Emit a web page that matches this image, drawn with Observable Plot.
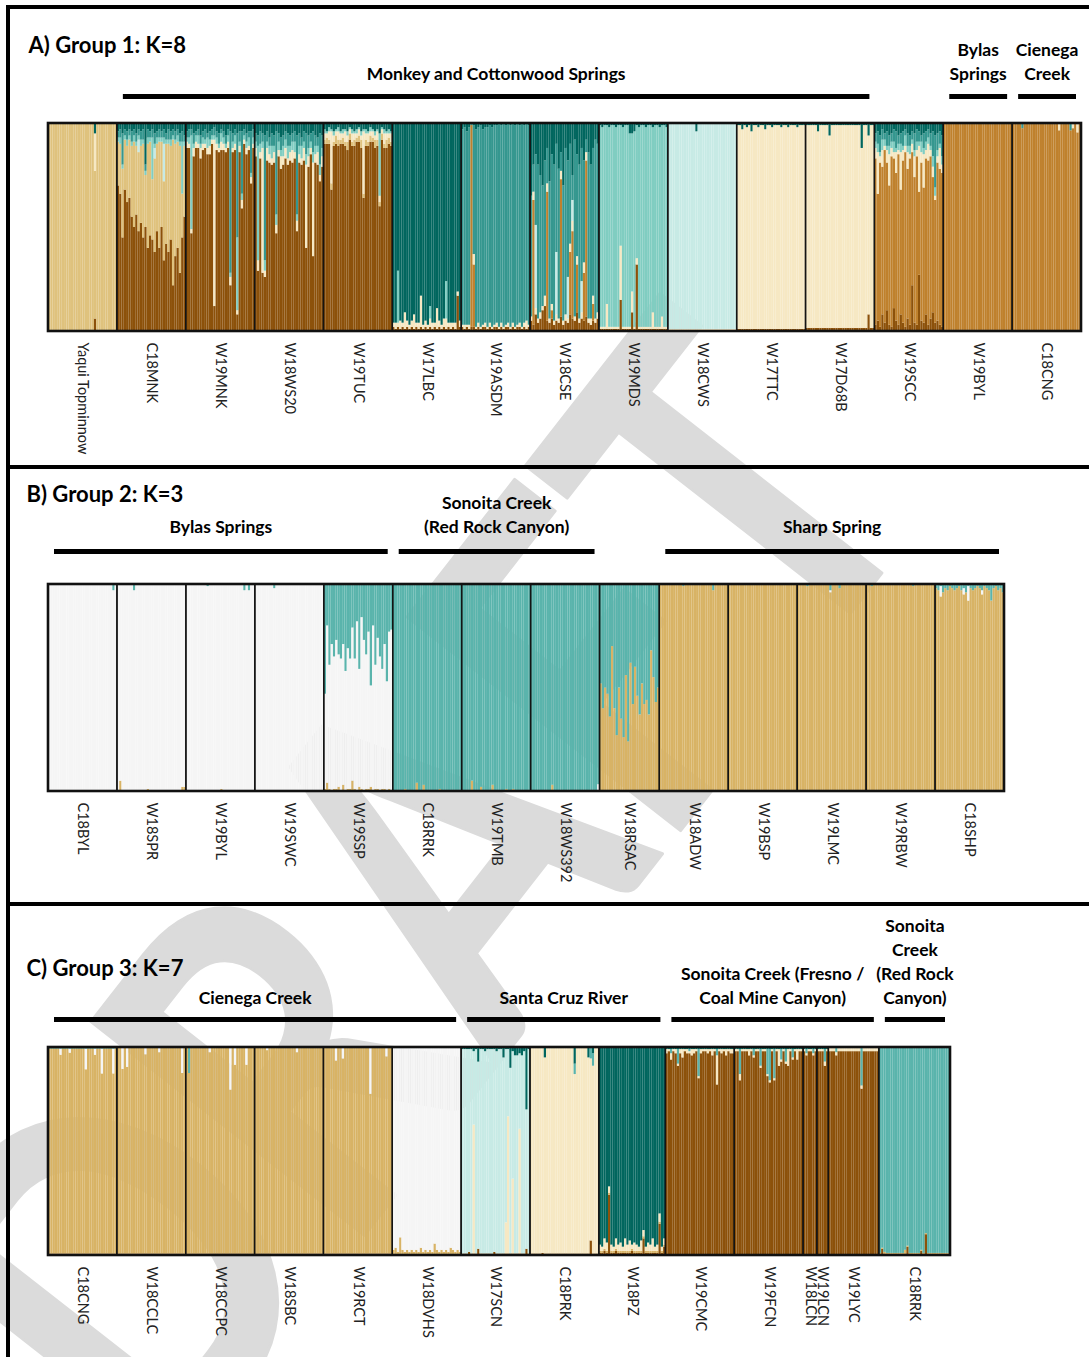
<!DOCTYPE html>
<html><head><meta charset="utf-8">
<script src="https://cdn.jsdelivr.net/npm/d3@7"></script>
<script src="https://cdn.jsdelivr.net/npm/@observablehq/plot@0.6"></script>
<style>
body{margin:0;background:#fff;}
#page{position:relative;width:1089px;height:1357px;overflow:hidden;background:#fff;font-family:Lato,"Open Sans",sans-serif;}
.panel{position:absolute;left:0;z-index:1;}
.line{position:absolute;background:#000;z-index:2;}
#wm{position:absolute;left:0;top:0;z-index:0;}
</style></head><body><div id="page"></div>
<script>
// ---------------- Panel A: Group 1, K=8 ----------------
const titleA = "A) Group 1: K=8";
const colorsA = ["#8c510a","#bf812d","#dfc27d","#f6e8c3","#c7eae5","#80cdc1","#35978f","#01665e"];
const popsA = ["Yaqui Topminnow","C18MNK","W19MNK","W18WS20","W19TUC","W17LBC","W19ASDM","W18CSE","W19MDS","W18CWS","W17TTC","W17D68B","W19SCC","W19BYL","C18CNG"];
const sizesA = [30,30,30,30,30,30,30,30,30,30,30,30,30,30,30];
const mainA = [2,2,0,0,0,7,6,6,5,4,3,3,1,1,1];
// per population: [cluster, % per individual] ; number = all individuals, object = sparse (_ = base)
const layersA = [
  [[0,{20:6}],[3,{20:18}],[7,{20:5}]],
  [[0,"70 66 45 68 62 64 55 50 56 48 52 45 50 40 46 44 38 48 40 50 34 42 38 44 22 36 40 28 45 55"],
   [4,{9:6,16:5,20:18}],
   [5,"2 3 2 2 3 2 2 3 2 2 3 2 2 3 2 20 2 3 2 2 3 2 2 3 2 2 3 2 25 2"],
   [6,"3 4 15 3 4 3 5 3 4 3 4 5 3 4 3 4 5 3 4 3 4 3 5 4 3 4 3 4 5 3"],
   [7,"4 3 5 3 4 3 4 3 5 3 4 3 20 3 4 3 5 4 3 4 3 5 3 4 3 4 3 5 4 6"]],
  [[3,"3 2 2 4 3 2 5 3 2 3 4 2 80 3 2 4 3 2 3 4 2 3 2 3 4 2 3 2 3 2"],
   [5,"2 3 45 2 3 4 2 3 2 5 3 2 2 3 2 4 3 2 3 2 3 4 35 2 3 2 3 4 2 3"],
   [6,"3 4 3 5 2 3 4 3 5 2 4 3 4 3 5 2 3 4 3 68 4 3 50 5 30 3 4 3 20 4"],
   [7,"4 3 3 5 4 3 6 4 3 5 4 3 2 4 5 3 4 6 3 4 5 3 5 4 4 3 5 4 4 3"]],
  [[3,"4 5 3 60 3 6 4 3 5 4 3 6 4 5 3 4 6 3 5 4 3 6 40 5 3 45 4 6 3 5"],
   [5,"3 55 4 3 5 3 4 6 3 5 4 3 5 4 6 3 4 5 3 4 6 3 5 4 3 5 4 3 5 4"],
   [6,"4 5 6 4 60 5 4 6 5 40 4 6 5 4 6 5 4 5 38 6 4 5 10 6 4 10 5 4 15 6"],
   [7,"5 6 4 5 6 4 7 5 6 4 5 7 6 4 5 6 5 4 6 5 7 4 5 6 5 4 6 7 5 6"]],
  [[2,"2 3 2 3 2 4 3 2 3 2 4 3 2 3 2 3 4 2 3 2 3 2 4 3 2 3 2 4 3 2"],
   [3,"3 2 4 25 3 2 4 3 2 5 3 2 4 3 2 3 2 30 3 4 2 3 2 4 3 2 5 3 2 4"],
   [5,"2 1 2 1 2 1 2 1 2 1 2 1 2 1 2 1 2 1 2 1 2 1 2 1 30 1 2 1 2 1"],
   [7,"3 4 2 3 4 3 2 4 3 3 4 2 3 4 3 2 4 3 3 4 2 3 4 3 5 2 3 4 3 4"]],
  [[0,"2 1 2 1 2 1 2 1 2 1 2 1 2 1 2 1 2 1 2 1 2 1 2 1 2 1 2 1 17 2"],
   [3,"2 3 2 4 2 8 3 2 3 7 2 3 15 2 3 2 4 3 2 10 3 2 4 5 2 3 2 3 2 3"],
   [5,{2:25,16:6,23:18}]],
  [[0,"2 1 2 1 2 2 1 2 1 2 2 1 2 1 2 2 1 2 1 2 2 1 2 1 2 2 1 2 1 2"],
   [1,{4:97,5:30}],
   [3,"1 2 1 2 0 5 1 2 1 1 2 1 2 1 1 2 1 2 1 1 2 1 2 1 1 2 1 2 4 1"],
   [7,"3 2 4 2 0 1 3 2 1 3 2 2 1 2 1 1 0 1 0 1 0 1 0 1 0 1 0 1 0 1"]],
  [[0,"5 3 8 4 6 10 12 5 4 6 3 5 4 7 3 5 4 8 6 5 9 4 6 5 7 4 3 5 4 6"],
   [1,{1:60,7:62,9:4,13:66,17:30,18:42,20:23,23:23,24:75,27:8}],
   [3,"2 4 3 2 3 2 5 4 2 3 2 3 2 4 2 3 2 4 5 2 4 2 3 5 4 2 3 4 2 3"],
   [4,{2:40,11:30,16:20,18:10,22:15}],
   [7,"35 20 15 20 25 30 18 12 28 15 20 10 22 14 30 12 18 10 25 8 15 20 12 18 8 14 20 12 8 10"]],
  [[0,{_:1,9:15,14:9,16:32}],
   [3,{_:1,3:12,9:26,14:10,16:3,23:8,27:6}],
   [7,"1 2 1 1 2 1 1 2 1 1 2 1 1 5 5 4 1 2 1 1 2 1 1 2 1 1 2 1 1 2"]],
  [[0,0.5],[3,0.5],[7,{12:4}]],
  [[0,1],[7,"1 1 3 1 2 1 4 1 1 2 1 1 3 1 1 2 1 1 1 2 1 1 2 1 1 1 2 1 1 1"]],
  [[0,{_:1.5,27:8}],[7,{_:1,5:4,10:6,24:12,27:6}]],
  [[0,"3 5 2 8 4 10 3 2 11 5 3 8 4 2 6 3 22 4 3 27 5 4 8 3 6 9 4 5 3 2"],
   [3,"5 20 3 8 2 6 15 4 3 10 2 18 5 3 8 2 4 10 3 22 5 16 4 8 3 5 2 3 10 4"],
   [5,"3 4 2 5 3 2 4 3 5 2 3 4 2 5 3 4 2 3 4 2 5 3 4 3 2 5 4 3 2 4"],
   [6,"4 6 8 5 3 7 5 4 6 8 4 5 7 3 6 5 4 8 6 5 3 7 5 4 6 12 25 8 6 10"],
   [7,"5 4 6 3 5 4 6 5 3 4 6 5 4 3 5 6 4 5 3 4 6 5 4 3 5 4 6 5 4 6"]],
  [[0,0.5],[7,0.5]],
  [[3,{20:3,26:2,28:4}],[6,{4:2,25:3}],[7,0.5]]
];
const groupsA = [
  {lines:["Monkey and Cottonwood Springs"], from:1, to:11},
  {lines:["Bylas","Springs"], from:13, to:13},
  {lines:["Cienega","Creek"], from:14, to:14}
];

// ---------------- Panel B: Group 2, K=3 ----------------
const titleB = "B) Group 2: K=3";
const colorsB = ["#d8b365","#f5f5f5","#5ab4ac"];
const popsB = ["C18BYL","W18SPR","W19BYL","W19SWC","W19SSP","C18RRK","W19TMB","W18WS392","W18RSAC","W18ADW","W19BSP","W19LMC","W19RBW","C18SHP"];
const sizesB = [30,30,30,30,30,30,30,30,26,30,30,30,30,30];
const mainB = [1,1,1,1,1,2,2,2,2,0,0,0,0,0];
const layersB = [
  [[0,0.5],[2,{28:3}]],
  [[0,{_:0.5,1:5,13:1,28:2,29:2}],[2,{7:3}]],
  [[0,{_:0.3,15:1}],[2,{9:1,25:3,27:3}]],
  [[0,0.3],[2,{8:2}]],
  [[0,"1 4 1 0 1 1 2 0 3 0 1 1 5 1 0 2 1 0 1 1 2 0 1 1 0 1 1 0 1 0"],
   [2,"53 20 39 29 35 27 34 36 29 42 31 36 21 36 18 41 16 27 34 23 49 20 39 26 35 41 29 47 23 22"]],
  [[0,{_:0.5,5:1,10:4,13:3,20:1}]],
  [[0,{_:0.5,4:5,8:2,13:3,19:1,22:1}]],
  [[0,{_:0.3,9:3}],[1,{29:3}]],
  [[0,"52 40 50 47 36 70 40 27 50 35 26 56 24 62 42 60 46 37 52 42 44 37 68 55 43 50"]],
  [[2,{10:1,23:3}]],
  [[2,0.3]],
  [[1,{14:1}],[2,{4:1,14:3,18:2}]],
  [[2,{2:1,20:1}]],
  [[1,{2:5,12:3,14:7,20:2}],[2,"2 3 1 4 2 3 1 2 3 2 1 3 2 4 1 2 3 2 1 2 3 1 2 3 8 2 1 3 2 4"]]
];
const groupsB = [
  {lines:["Bylas Springs"], from:0, to:4},
  {lines:["Sonoita Creek","(Red Rock Canyon)"], from:5, to:7},
  {lines:["Sharp Spring"], from:9, to:13}
];

// ---------------- Panel C: Group 3, K=7 ----------------
const titleC = "C) Group 3: K=7";
const colorsC = ["#8c510a","#d8b365","#f6e8c3","#f5f5f5","#c7eae5","#5ab4ac","#01665e"];
const popsC = ["C18CNG","W18CCLC","W18CCPC","W18SBC","W19RCT","W18DVHS","W17SCN","C18PRK","W18PZ","W19CMC","W19FCN","W18LCN","W19LCN","W19LYC","C18RRK"];
const sizesC = [30,30,30,30,30,30,30,30,29,30,30,6,5,22,31];
const mainC = [1,1,1,1,1,3,4,2,6,0,0,0,0,0,5];
const layersC = [
  [[0,0.7],[3,{5:3,9:2,16:10,20:3,23:12,28:12}],[6,0.7]],
  [[0,0.7],[3,{2:10,4:9,12:3,18:2,28:12}],[6,0.5]],
  [[0,0.7],[3,{10:2,19:20,21:8,26:8}],[5,{1:12}],[6,0.5]],
  [[0,0.7],[3,{5:1,18:2}],[6,0.5]],
  [[0,0.7],[3,{5:6,8:5,20:22,27:4}],[6,0.5]],
  [[0,0.5],[1,"2 3 1 8 2 1 2 1 2 1 2 1 3 1 2 1 2 1 5 2 1 2 1 2 1 3 2 1 2 1"],[6,0.5]],
  [[0,{_:0.7,3:1.5,7:3,14:1.5,28:3}],[2,{5:62,19:15,20:66,22:36,25:60}],
   [6,"1 1 1 1 1 2 1 7 1 1 2 1 1 1 1 2 1 1 5 1 1 10 2 4 4 3 4 2 30 1"]],
  [[0,{_:0.7,5:1,26:7}],[5,{19:5,26:5,27:6}],[6,{_:0.5,6:5,19:8,25:5,27:3}]],
  [[0,"1 1 2 1 29 1 1 2 1 1 1 1 1 1 2 1 1 1 1 8 1 1 1 1 1 1 15 1 4"],[1,1],
   [2,"3 2 5 4 3 3 2 5 3 4 2 6 3 5 2 4 3 2 5 3 2 4 3 6 2 3 4 2 3"]],
  [[2,"2 1 3 1 2 1 2 4 1 2 1 3 2 1 1 2 1 1 2 1 3 1 14 1 2 1 3 1 2 2"],[5,{2:2,5:7,10:1,14:13,22:3}],[6,1]],
  [[2,{_:1,2:3,6:3,19:8,23:8,27:5}],[5,{2:12,8:3,11:8,14:12,15:15,17:14,20:5,22:6,25:4}],[6,1]],
  [[2,1],[5,{1:2,4:2}],[6,1]],
  [[2,{_:1,3:2}],[5,{3:6}],[6,1]],
  [[2,1.5],[5,{3:2,14:18}],[6,0.5]],
  [[0,{_:0.5,1:3,12:4,18:2,20:10}],[1,{_:0.5,2:1,11:2}],[6,0.5]]
];
const groupsC = [
  {lines:["Cienega Creek"], from:0, to:5},
  {lines:["Santa Cruz River"], from:6, to:8},
  {lines:["Sonoita Creek (Fresno /","Coal Mine Canyon)"], from:9, to:13},
  {lines:["Sonoita","Creek","(Red Rock","Canyon)"], from:14, to:14}
];

// ---------------- build ----------------
function expand(spec, n) {
  if (typeof spec === "number") return Array(n).fill(spec);
  if (typeof spec === "string") { const a = spec.trim().split(/\s+/).map(Number); while (a.length < n) a.push(0); return a.slice(0, n); }
  const a = Array(n).fill(spec._ || 0);
  for (const k in spec) if (k !== "_") a[+k] = spec[k];
  return a;
}
function build(pops, sizes, main, layers, K) {
  const bars = [], info = []; let off = 0;
  pops.forEach((name, i) => {
    const n = sizes[i];
    const q = Array.from({length: n}, () => Array(K).fill(0));
    for (const [c, spec] of layers[i]) expand(spec, n).forEach((v, j) => q[j][c] += v / 100);
    q.forEach(r => { const s = d3.sum(r); r[main[i]] += Math.max(0, 1 - s); });
    q.forEach((r, j) => {
      let y = 0;
      r.forEach((v, c) => { if (v > 0) { bars.push({x1: off + j, x2: off + j + 1, y1: y, y2: y + v, c}); y += v; } });
    });
    info.push({name, start: off, end: off + n});
    off += n;
  });
  return {bars, info, total: off};
}

function panel(cfg) {
  const {bars, info, total} = build(cfg.pops, cfg.sizes, cfg.main, cfg.layers, cfg.colors.length);
  const lines = [];
  cfg.groups.forEach(g => {
    const s = info[g.from].start, e = info[g.to].end;
    g.lines.forEach((t, i) => lines.push({text: t, x: (s + e) / 2, k: g.lines.length - 1 - i}));
  });
  const spans = cfg.groups.map(g => ({s: info[g.from].start, e: info[g.to].end}));
  const textMarks = [0, 1, 2, 3].map(k => Plot.text(lines.filter(d => d.k === k), {
    x: "x", y: 1, text: "text", dy: cfg.textDy - 24 * k, fontSize: 17.5, fontWeight: "bold", fill: "#000", lineAnchor: "middle"
  }));
  return Plot.plot({
    width: 1089, height: cfg.height, margin: 0,
    style: {background: "transparent", fontFamily: "Lato, 'Open Sans', sans-serif", overflow: "visible"},
    x: {type: "linear", domain: [0, total], range: cfg.xRange, axis: null},
    y: {type: "linear", domain: [0, 1], range: cfg.yRange, axis: null},
    color: {type: "identity"},
    marks: [
      Plot.rect(bars, {x1: "x1", x2: "x2", y1: "y1", y2: "y2", fill: d => cfg.colors[d.c]}),
      Plot.rect(info, {x1: "start", x2: "end", y1: 0, y2: 1, fill: "none", stroke: "#141414", strokeWidth: 1.4}),
      Plot.rect([total], {x1: 0, x2: d => d, y1: 0, y2: 1, fill: "none", stroke: "#111", strokeWidth: 2.6}),
      Plot.text(info, {x: d => (d.start + d.end) / 2, y: 0, dy: 11, text: "name", rotate: 90, textAnchor: "start", lineAnchor: "middle", fontSize: 14.5, fill: "#222"}),
      Plot.ruleY(spans, {x1: "s", x2: "e", y: 1, dy: cfg.barDy, stroke: "#000", strokeWidth: 5, insetLeft: 6, insetRight: 5}),
      ...textMarks,
      Plot.text([cfg.title], {frameAnchor: "top-left", dx: cfg.titleX, dy: cfg.titleY, textAnchor: "start", lineAnchor: "middle", fontSize: 22, fontWeight: "bold", fill: "#000"})
    ]
  });
}

const page = document.getElementById("page");
// watermark (tall, condensed letters)
const wm = d3.select(page).append("svg").attr("id", "wm").attr("width", 1089).attr("height", 1357);
wm.append("text").text("DRAFT")
  .attr("transform", "translate(405,882) rotate(-52) scale(0.8,1)")
  .attr("text-anchor", "middle").attr("dominant-baseline", "central")
  .attr("font-family", "Lato, 'Open Sans', sans-serif").attr("font-weight", 700)
  .attr("font-size", 480).attr("fill", "#dbdbdb")
  .attr("stroke", "#dbdbdb").attr("stroke-width", 3).attr("stroke-linejoin", "round");

const cfgs = [
  {top: 9, height: 456, title: titleA, titleX: 28, titleY: 36, colors: colorsA, pops: popsA, sizes: sizesA, main: mainA, layers: layersA, groups: groupsA,
   xRange: [48, 1081], yRange: [322, 114], barDy: -27, textDy: -49},
  {top: 469, height: 433, title: titleB, titleX: 26, titleY: 25, colors: colorsB, pops: popsB, sizes: sizesB, main: mainB, layers: layersB, groups: groupsB,
   xRange: [48, 1004], yRange: [322, 115], barDy: -33, textDy: -57},
  {top: 906, height: 451, title: titleC, titleX: 26, titleY: 62, colors: colorsC, pops: popsC, sizes: sizesC, main: mainC, layers: layersC, groups: groupsC,
   xRange: [48, 950], yRange: [349, 141], barDy: -28, textDy: -49}
];
cfgs.forEach(c => {
  const div = document.createElement("div");
  div.className = "panel"; div.style.top = c.top + "px";
  div.appendChild(panel(c));
  page.appendChild(div);
});
// figure frame lines
[[6,5,1083,4],[6,5,4,1352],[6,465,1083,4],[6,902,1083,4]].forEach(([l,t,w,h]) => {
  const d = document.createElement("div"); d.className = "line";
  Object.assign(d.style, {left: l + "px", top: t + "px", width: w + "px", height: h + "px"});
  page.appendChild(d);
});
</script></body></html>
